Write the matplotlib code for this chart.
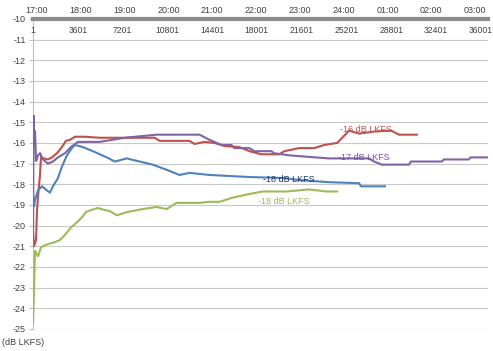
"""Loudness (dB LKFS) over a broadcast day, four programme series."""
import matplotlib
matplotlib.use("Agg")
import matplotlib.pyplot as plt
from matplotlib import transforms

plt.rcParams["font.family"] = ["Liberation Sans", "DejaVu Sans"]
plt.rcParams["axes.unicode_minus"] = False

# sample index (seconds) on the lower axis, clock time on the upper one
sample_ticks = [1, 3601, 7201, 10801, 14401, 18001, 21601, 25201, 28801, 32401, 36001]
hour_labels = ["17:00", "18:00", "19:00", "20:00", "21:00", "22:00",
               "23:00", "24:00", "01:00", "02:00", "03:00"]
y_ticks = list(range(-10, -26, -1))

red_x = [1, 80, 241, 321, 401, 561, 642, 882, 1203, 1524, 1925, 2326, 2647, 2967,
         3368, 4170, 5373, 7378, 9784, 10185, 12591, 12992, 13794, 14596, 15398,
         16601, 17403, 18366, 19809, 20210, 21413, 22616, 23418, 24461, 25423,
         26225, 27428, 28792, 29433, 30877]
red_y = [-20.3, -21.0, -20.7, -19.25, -18.6, -17.55, -16.7, -16.75, -16.8, -16.7,
         -16.5, -16.2, -15.9, -15.85, -15.7, -15.7, -15.75, -15.75, -15.75, -15.9,
         -15.9, -16.05, -15.95, -16.0, -16.15, -16.2, -16.4, -16.55, -16.55, -16.4,
         -16.25, -16.25, -16.1, -16.0, -15.4, -15.55, -15.45, -15.4, -15.6, -15.6]

purple_x = [1, 40, 80, 160, 241, 401, 561, 802, 1203, 1604, 2005, 2566, 3048, 3609,
            5373, 7378, 9945, 13393, 14195, 15158, 15960, 16200, 17403, 17804, 19168,
            19408, 20611, 21654, 23819, 27027, 27428, 28070, 30235, 30396, 32882,
            33042, 35047, 35208, 36600]
purple_y = [-21.0, -14.65, -15.5, -15.4, -16.9, -16.6, -16.5, -16.8, -17.0, -16.9,
            -16.7, -16.5, -16.2, -15.95, -15.95, -15.75, -15.6, -15.6, -15.85, -16.1,
            -16.1, -16.25, -16.25, -16.4, -16.4, -16.5, -16.6, -16.65, -16.75, -16.75,
            -16.9, -17.05, -17.05, -16.9, -16.9, -16.8, -16.8, -16.7, -16.7]

blue_x = [1, 80, 160, 401, 722, 1123, 1363, 1604, 2005, 2326, 2727, 3128, 3368, 4010,
          4812, 5935, 6576, 7539, 8581, 9624, 10747, 11789, 12591, 14195, 17403,
          20210, 21413, 23819, 26225, 26386, 28311]
blue_y = [-18.4, -19.1, -18.75, -18.3, -18.1, -18.3, -18.4, -18.1, -17.7, -17.15,
          -16.6, -16.25, -16.1, -16.2, -16.4, -16.7, -16.9, -16.75, -16.9, -17.05,
          -17.3, -17.55, -17.45, -17.55, -17.65, -17.7, -17.8, -17.9, -17.95, -18.1,
          -18.1]

green_x = [1, 80, 160, 241, 401, 561, 642, 962, 1444, 1764, 2165, 2566, 3048, 3609,
           4010, 4250, 4652, 5213, 5774, 6175, 6737, 7539, 8822, 9945, 10747, 11549,
           13393, 14195, 14997, 16040, 17163, 18446, 20371, 22215, 23579, 24461]
green_y = [-24.7, -23.1, -21.2, -21.3, -21.5, -21.2, -21.05, -20.95, -20.85, -20.8,
           -20.7, -20.45, -20.1, -19.8, -19.55, -19.35, -19.25, -19.15, -19.25, -19.3,
           -19.5, -19.35, -19.2, -19.1, -19.2, -18.9, -18.9, -18.85, -18.85, -18.65,
           -18.5, -18.35, -18.35, -18.25, -18.35, -18.35]

series = [
    (red_x, red_y, "#C0504D", "-16 dB LKFS", "#C0504D", 26800, -15.35),
    (purple_x, purple_y, "#8064A2", "-17 dB LKFS", "#7A4FA8", 26600, -16.7),
    (blue_x, blue_y, "#4F81BD", "-18 dB LKFS", "#1F3864", 20600, -17.75),
    (green_x, green_y, "#9BBB59", "-18 dB LKFS", "#9BBB59", 20200, -18.85),
]

fig = plt.figure(figsize=(4.93, 3.51), dpi=100)
ax = fig.add_axes([0.067, 0.063, 0.923, 0.883])

for xs, ys, c, lab, tc, lx, ly in series:
    ax.plot(xs, ys, color=c, lw=1.5, solid_joinstyle="miter", zorder=3)
    ax.text(lx, ly, lab, color=tc, fontsize=6.5, ha="center", va="center", zorder=4)

ax.set_xlim(1, 36600)
ax.set_ylim(-25, -10)
ax.set_yticks(y_ticks)
ax.set_yticklabels([str(v) for v in y_ticks], fontsize=6.5, color="#404040")
ax.tick_params(axis="y", length=3, color="#BFBFBF", pad=2)
ax.set_xticks([])
ax.grid(axis="y", color="#C8C8C8", lw=0.8)
ax.set_axisbelow(True)

for side in ("right", "bottom"):
    ax.spines[side].set_visible(False)
ax.spines["left"].set_color("#BFBFBF")
ax.spines["top"].set_color("#8C8C8C")
ax.spines["top"].set_linewidth(3)

# sample numbers sit just below the thick top axis
trans = transforms.blended_transform_factory(ax.transData, ax.transAxes)
for v in sample_ticks:
    ax.text(v, 0.962, str(v), transform=trans, fontsize=6.2, color="#404040",
            ha="center", va="center")

# clock-time axis above the plot
top = ax.twiny()
top.set_xlim(-0.091, 10.297)
top.set_xticks(range(len(hour_labels)))
top.set_xticklabels(hour_labels, fontsize=6.5, color="#404040")
top.tick_params(axis="x", length=0, pad=3)
for s in top.spines.values():
    s.set_visible(False)

fig.text(0.004, 0.012, "(dB LKFS)", fontsize=6.5, color="#404040", ha="left", va="bottom")

fig.savefig("out.png", dpi=100)
